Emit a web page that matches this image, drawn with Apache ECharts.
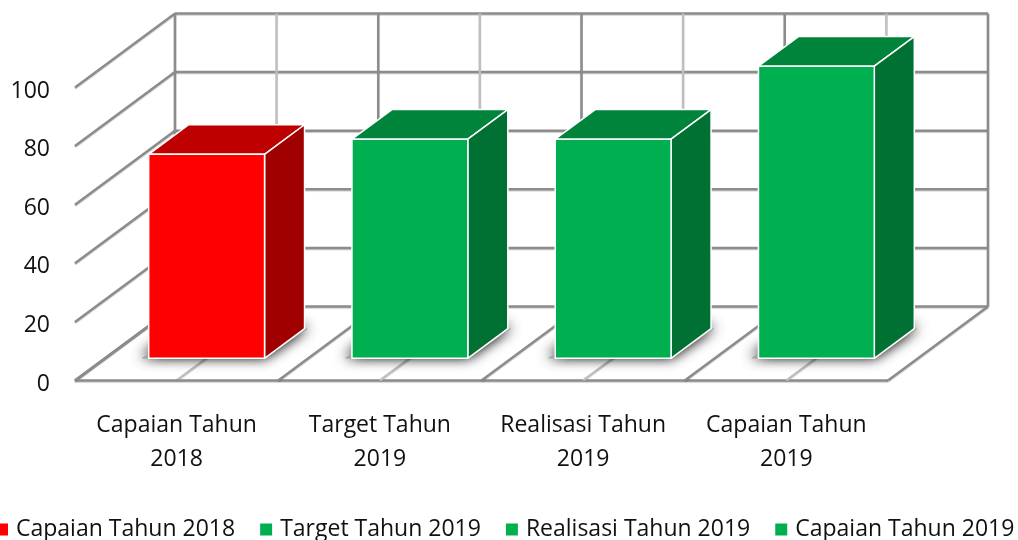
<!DOCTYPE html>
<html>
<head>
<meta charset="utf-8">
<title>Capaian</title>
<script src="https://cdn.jsdelivr.net/npm/echarts@6/dist/echarts.min.js"></script>
<style>
  html, body { margin: 0; padding: 0; background: #fff; overflow: hidden; }
  #chart { width: 1018px; height: 540px; }
</style>
</head>
<body>
<div id="chart"></div>
<script>
var categories = ['Capaian Tahun 2018', 'Target Tahun 2019', 'Realisasi Tahun 2019', 'Capaian Tahun 2019']
var values = [69.6, 74.8, 74.8, 99.7]
var yTicks = [0, 20, 40, 60, 80, 100]

// face colours per bar: front, top, side
var redFaces = ['#ff0000', '#bf0000', '#a00000']
var greenFaces = ['#00b050', '#00843c', '#007033']
var barFaces = [redFaces, greenFaces, greenFaces, greenFaces]

var font = '"Open Sans"'
var DEPTH_X = 100
var DEPTH_Y = -74
var BAR_RATIO = 0.57
var BAR_FRONT = 0.3 // how far the bar front sits from the floor's front edge
var BAR_DEPTH = 0.4

var darkLine = { stroke: '#8c8c8c', lineWidth: 2.5, shadowColor: 'rgba(0,0,0,0.2)', shadowBlur: 1, shadowOffsetY: 1 }
var lightLine = { stroke: '#bfbfbf', lineWidth: 2.5, shadowColor: 'rgba(0,0,0,0.1)', shadowBlur: 1, shadowOffsetY: 1 }

function line(p, q, style) {
  return { type: 'line', shape: { x1: p[0], y1: p[1], x2: q[0], y2: q[1] }, style: style, silent: true }
}

function back(p, k) {
  return [p[0] + DEPTH_X * k, p[1] + DEPTH_Y * k]
}

// horizontal lines on the back wall + diagonals on the left wall
function renderWall(params, api) {
  var tick = api.value(1)
  var band = api.size([1, 0])[0]
  var left = api.coord([0, tick])
  var right = api.coord([categories.length - 1, tick])
  var p0 = [left[0] - band / 2, left[1]]
  var p1 = [right[0] + band / 2, right[1]]
  return {
    type: 'group',
    children: [
      line(p0, back(p0, 1), darkLine),
      line(back(p0, 1), back(p1, 1), darkLine)
    ]
  }
}

// floor diagonals and back wall verticals for each category
function renderFloor(params, api) {
  var idx = api.value(0)
  var band = api.size([1, 0])[0]
  var bottom = api.coord([idx, 0])
  var top = api.coord([idx, 100])
  var children = []
  function add(dx, style) {
    var b = [bottom[0] + dx, bottom[1]]
    var t = [top[0] + dx, top[1]]
    children.push(line(back(t, 1), back(b, 1), style))
    children.push(line(b, back(b, 1), style))
  }
  add(-band / 2, darkLine)
  add(0, lightLine)
  if (idx === categories.length - 1) {
    add(band / 2, darkLine)
  }
  var last = categories.length - 1
  if (idx === 0) {
    var end = api.coord([last, 0])
    children.push(line([bottom[0] - band / 2, bottom[1]], [end[0] + band / 2, end[1]], darkLine))
  }
  return { type: 'group', children: children }
}

function renderBar(params, api) {
  var idx = api.value(0)
  var band = api.size([1, 0])[0]
  var base = api.coord([idx, 0])
  var head = api.coord([idx, api.value(1)])
  var faces = barFaces[idx]
  var w = band * BAR_RATIO
  var x0 = base[0] - w / 2 + DEPTH_X * BAR_FRONT
  var x1 = x0 + w
  var yb = base[1] + DEPTH_Y * BAR_FRONT
  var yt = head[1] + DEPTH_Y * BAR_FRONT
  var dx = DEPTH_X * BAR_DEPTH
  var dy = DEPTH_Y * BAR_DEPTH
  var edge = { stroke: '#fff', lineWidth: 1.5, lineJoin: 'round' }
  function poly(points, fill) {
    return { type: 'polygon', shape: { points: points }, style: Object.assign({ fill: fill }, edge), silent: true }
  }
  // soft shadow on the floor, drawn twice so it builds up
  var footprint = [[x0 - 7, yb], [x1, yb], [x1 + dx + 3, yb + dy], [x0 + dx, yb + dy]]
  var shadow = { fill: '#a6a6a6', shadowColor: 'rgba(0,0,0,0.8)', shadowBlur: 14, shadowOffsetY: -2 }
  return {
    type: 'group',
    children: [
      { type: 'polygon', silent: true, shape: { points: footprint }, style: shadow },
      { type: 'polygon', silent: true, shape: { points: footprint }, style: shadow },
      poly([[x0, yt], [x1, yt], [x1 + dx, yt + dy], [x0 + dx, yt + dy]], faces[1]),
      poly([[x1, yt], [x1 + dx, yt + dy], [x1 + dx, yb + dy], [x1, yb]], faces[2]),
      poly([[x0, yt], [x1, yt], [x1, yb], [x0, yb]], faces[0])
    ]
  }
}

var series = [
  {
    type: 'custom',
    name: 'wall',
    renderItem: renderWall,
    data: yTicks.map(function (t) { return [0, t] }),
    silent: true,
    z: 1
  },
  {
    type: 'custom',
    name: 'floor',
    renderItem: renderFloor,
    data: categories.map(function (c, i) { return [i, 0] }),
    silent: true,
    z: 1
  }
]
categories.forEach(function (name, i) {
  series.push({
    type: 'custom',
    name: name,
    renderItem: renderBar,
    itemStyle: { color: barFaces[i][0] },
    data: [[i, values[i]]],
    z: 2
  })
})

var chart = echarts.init(document.getElementById('chart'), null, { renderer: 'canvas' })
chart.setOption({
  animation: false,
  backgroundColor: '#fff',
  grid: { left: 75, right: 130, top: 87.5, height: 293 },
  legend: {
    data: categories,
    left: -9,
    top: 513,
    width: 1060,
    icon: 'rect',
    itemWidth: 12,
    itemHeight: 12,
    itemGap: 25,
    itemStyle: { borderWidth: 0 },
    textStyle: { fontFamily: font, fontSize: 23, color: '#111', padding: [0, 0, 0, 3] }
  },
  xAxis: {
    type: 'category',
    data: categories,
    axisLine: { show: false },
    axisTick: { show: false },
    axisLabel: {
      interval: 0,
      margin: 28,
      fontFamily: font,
      fontSize: 23,
      lineHeight: 34,
      color: '#111',
      formatter: function (v) { return v.replace(/ (\d+)$/, '\n$1') }
    }
  },
  yAxis: {
    type: 'value',
    min: 0,
    max: 100,
    interval: 20,
    axisLine: { show: false },
    axisTick: { show: false },
    splitLine: { show: false },
    axisLabel: { margin: 25, fontFamily: font, fontSize: 23, color: '#111', verticalAlign: 'top', lineHeight: 7 }
  },
  series: series
})
</script>
</body>
</html>
